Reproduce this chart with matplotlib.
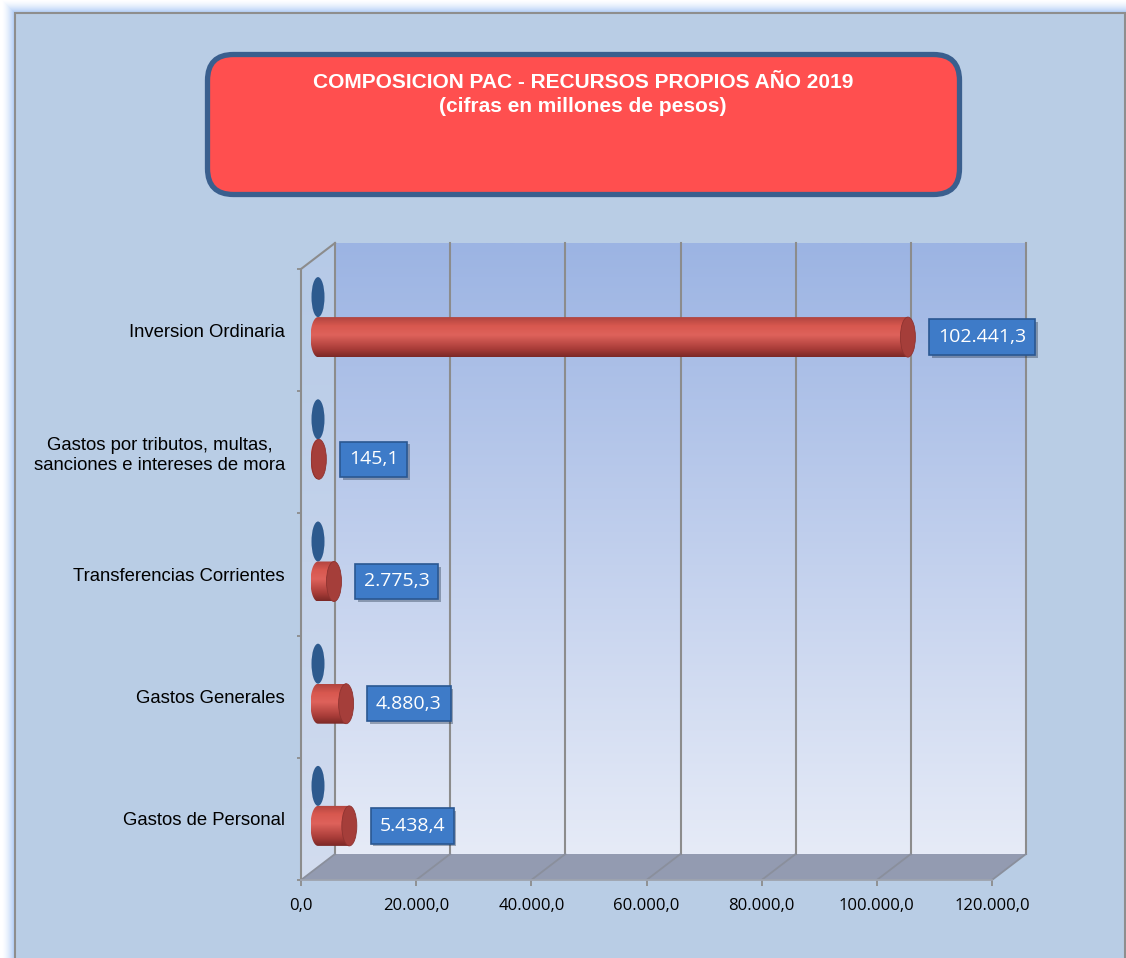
import numpy as np
import matplotlib
matplotlib.use('Agg')
import matplotlib.pyplot as plt
from matplotlib.patches import Rectangle, Polygon, Ellipse, FancyBboxPatch
from matplotlib.colors import LinearSegmentedColormap, to_rgb
import matplotlib.patheffects as pe

# datos (de abajo hacia arriba)
categorias = ['Gastos de Personal', 'Gastos Generales', 'Transferencias Corrientes',
              'Gastos por tributos, multas,\nsanciones e intereses de mora',
              'Inversion Ordinaria']
recursos = [5438.4, 4880.3, 2775.3, 145.1, 102441.3]
serie_cero = [0, 0, 0, 0, 0]
ticks_x = [0, 20000, 40000, 60000, 80000, 100000, 120000]
titulo1 = 'COMPOSICION PAC - RECURSOS PROPIOS AÑO 2019'
titulo2 = '(cifras en millones de pesos)'


def fmt(v):
    s = f'{v:,.1f}'
    return s.replace(',', 'X').replace('.', ',').replace('X', '.')


def mezcla(c1, c2, t):
    a, b = np.array(to_rgb(c1)), np.array(to_rgb(c2))
    return tuple(a + (b - a) * t)


def gradiente(ax, extent, cmap, clip, z):
    im = ax.imshow(g, extent=extent, origin='lower', aspect='auto', cmap=cmap,
                   zorder=z)
    im.set_clip_box(fig.bbox)
    im.set_clip_path(clip)
    im.set_clip_on(True)
    return im


W, H = 1126, 958
fig = plt.figure(figsize=(W / 100, H / 100), dpi=100)
fig.patch.set_facecolor('white')

# fondo, marco y resplandor
bg = fig.add_axes([0, 0, 1, 1])
bg.set_xlim(0, W)
bg.set_ylim(H, 0)
bg.axis('off')
for k in range(14, 0, -1):
    t = (1 - k / 14) ** 1.6
    bg.add_patch(Rectangle((15 - k, 13 - k), W + 40, H + 40,
                           fc=mezcla('white', '#A4C4F4', t), ec='none'))
bg.add_patch(Rectangle((15, 13), 1110, 980, fc='#B9CDE5', ec='#8E8E8E', lw=1.5))

# caja del titulo
bg.add_patch(FancyBboxPatch((207.5, 54.5), 752, 140,
                            boxstyle='round,pad=0,rounding_size=26',
                            fc='#FF4F4F', ec='#3A5F8E', lw=3.8))
bg.text(583, 82, titulo1, ha='center', va='center', color='white',
        fontsize=15, fontweight='bold', family='Liberation Sans')
bg.text(583, 106, titulo2, ha='center', va='center', color='white',
        fontsize=15, fontweight='bold', family='Liberation Sans')

# area de grafico (plano frontal)
X0, X1, Y0, Y1 = 301, 992, 269, 880
ax = fig.add_axes([X0 / W, 1 - Y1 / H, (X1 - X0) / W, (Y1 - Y0) / H])
xmax = ticks_x[-1]
n = len(categorias)
ax.set_xlim(0, xmax)
ax.set_ylim(0, n)
px = xmax / (X1 - X0)
py = n / (Y1 - Y0)
DX, DY = 34 * px, 26 * py       # profundidad
MX, MY = 17 * px, 13 * py       # mitad de la profundidad

gris = '#8C8C8C'
g = np.linspace(0, 1, 256).reshape(-1, 1)

# pared del fondo
fondo = Polygon([(DX, DY), (xmax + DX, DY), (xmax + DX, n + DY), (DX, n + DY)],
                closed=True, transform=ax.transData)
gradiente(ax, (DX, xmax + DX, DY, n + DY),
          LinearSegmentedColormap.from_list('fondo', ['#E6EBF7', '#9CB4E3']), fondo, 1)
# pared lateral
lat = Polygon([(0, 0), (0, n), (DX, n + DY), (DX, DY)], closed=True,
              transform=ax.transData)
gradiente(ax, (0, DX, 0, n + DY),
          LinearSegmentedColormap.from_list('lat', ['#D2DCEF', '#B6CAE7']), lat, 1)
# piso
ax.add_patch(Polygon([(0, 0), (xmax, 0), (xmax + DX, DY), (DX, DY)], closed=True,
                     fc='#939BB1', ec='none', zorder=1.5, clip_on=False))

# lineas de cuadricula
for t in ticks_x:
    ax.plot([t + DX, t + DX], [DY, n + DY], color=gris, lw=1.5, zorder=2, clip_on=False)
    ax.plot([t, t + DX], [0, DY], color='#8A8F9C', lw=1.3, zorder=2, clip_on=False)
ax.plot([0, 0], [0, n], color=gris, lw=1.5, zorder=2, clip_on=False)
ax.plot([0, DX], [n, n + DY], color=gris, lw=1.5, zorder=2, clip_on=False)
ax.plot([0, xmax], [0, 0], color='#9EA3AE', lw=1.3, zorder=2, clip_on=False)

# cilindros
alto = 40 * py
ancho_tapa = 15 * px
ancho_azul = 13 * px
cmap_rojo = LinearSegmentedColormap.from_list(
    'rojo', [(0, '#7A2826'), (0.2, '#A83C38'), (0.55, '#DE625B'),
             (0.78, '#D8584F'), (1.0, '#B0443F')])
for i, (v, z) in enumerate(zip(recursos, serie_cero)):
    yc = i + 0.5 + MY
    yr = yc - alto / 2
    yb = yc + alto / 2
    # serie en cero (azul)
    ax.add_patch(Ellipse((z + MX, yb), ancho_azul, alto, fc='#2D5A8E', ec='none',
                         zorder=5, clip_on=False))
    # cuerpo rojo
    a = ancho_tapa / 2
    th = np.linspace(np.pi / 2, 3 * np.pi / 2, 40)
    pts = np.column_stack([MX + a * np.cos(th), yr + alto / 2 * np.sin(th)])
    pts = np.vstack([pts, [MX + v, yr - alto / 2], [MX + v, yr + alto / 2]])
    clip = Polygon(pts, closed=True, transform=ax.transData)
    gradiente(ax, (MX - a, MX + v, yr - alto / 2, yr + alto / 2), cmap_rojo, clip, 5)
    ax.add_patch(Ellipse((MX + v, yr), ancho_tapa, alto, fc='#A53E3A', ec='#8E3330',
                         lw=0.6, zorder=6, clip_on=False))
    # etiqueta de valor
    txt = ax.annotate(fmt(v), xy=(MX + v, yr), xytext=(30, 0),
                      textcoords='offset pixels', ha='left', va='center',
                      color='white', fontsize=14, family='Open Sans', zorder=8,
                      bbox=dict(boxstyle='square,pad=0.45', fc='#3E7BC8',
                                ec='#2A5791', lw=1.2))
    txt.get_bbox_patch().set_path_effects(
        [pe.SimplePatchShadow(offset=(2, -2), alpha=0.35), pe.Normal()])

ax.set_xlim(0, xmax)
ax.set_ylim(0, n)
ax.patch.set_visible(False)
for s in ax.spines.values():
    s.set_visible(False)

ax.set_xticks(ticks_x)
ax.set_xticklabels([fmt(t) for t in ticks_x], family='Open Sans', fontsize=12)
ax.tick_params(axis='x', length=4.5, width=1.3, color=gris, pad=8.5)
ax.set_yticks(range(n + 1))
ax.set_yticklabels([])
ax.tick_params(axis='y', which='major', length=3, width=1.3, color=gris)
ax.set_yticks([i + 0.5 for i in range(n)], minor=True)
ax.set_yticklabels(categorias, minor=True, family='Liberation Sans', fontsize=13.3)
ax.tick_params(axis='y', which='minor', length=0, pad=11.5)
for lb in ax.get_yticklabels(minor=True):
    lb.set_multialignment('center')

fig.savefig('out.png', dpi=100)
